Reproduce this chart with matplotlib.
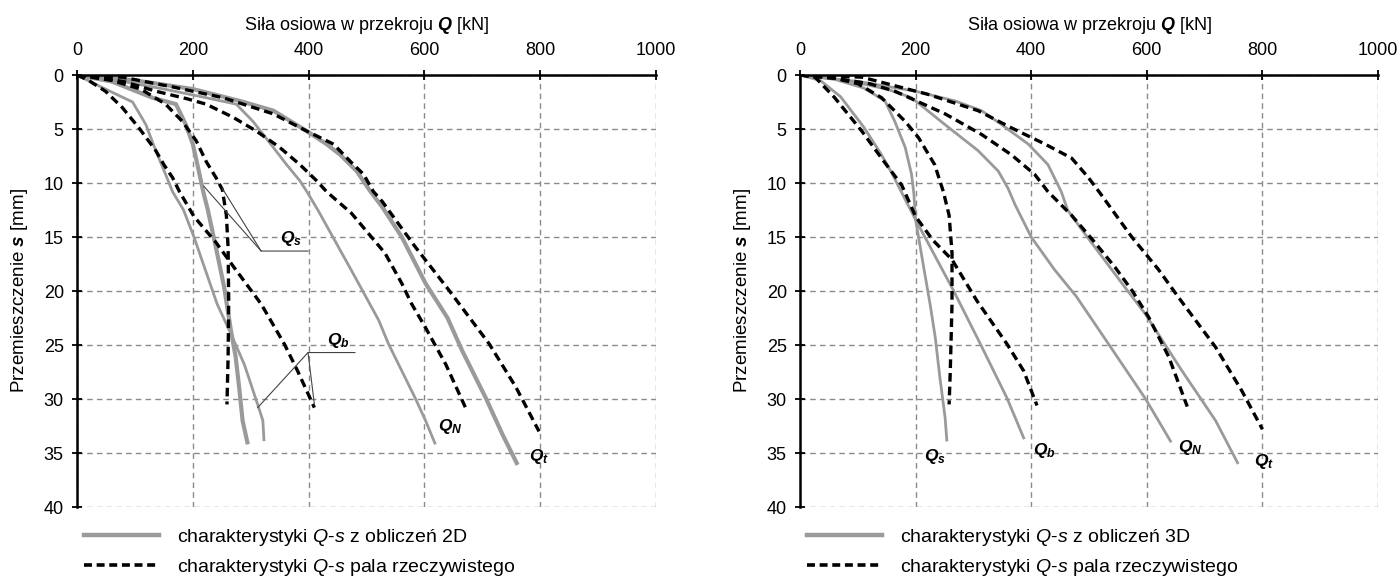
import matplotlib
matplotlib.use("Agg")
import matplotlib.pyplot as plt
from matplotlib.lines import Line2D

plt.rcParams['font.family'] = ['Liberation Sans', 'DejaVu Sans']
plt.rcParams['mathtext.fontset'] = 'custom'
plt.rcParams['mathtext.rm'] = 'Liberation Sans'
plt.rcParams['mathtext.it'] = 'Liberation Sans:italic'
plt.rcParams['mathtext.bf'] = 'Liberation Sans:bold'
plt.rcParams['mathtext.bfit'] = 'Liberation Sans:bold:italic'

# ---- lewy wykres: obliczenia 2D (Q [kN], s [mm]) ----
g2_Qs_Q = [0, 60, 130, 171, 188, 200, 210, 218, 226, 242, 254, 266, 274, 280, 286, 295]
g2_Qs_s = [0, 0.6, 2.1, 2.7, 4.6, 6.4, 8.8, 10.8, 12.5, 16.5, 19.6, 23.7, 26.1, 28.9, 32, 34.2]
g2_Qb_Q = [0, 49, 96, 119, 136, 153, 165, 184, 202, 242, 266, 289, 312, 321, 323]
g2_Qb_s = [0, 1.3, 2.5, 4.6, 7.0, 9.2, 10.8, 12.5, 15, 21.2, 24, 26.8, 30.5, 32, 33.9]
g2_QN_Q = [0, 80, 150, 223, 275, 304, 339, 362, 385, 397, 416, 474, 521, 538, 561, 584, 602, 619]
g2_QN_s = [0, 0.6, 1.3, 2.1, 2.7, 4.3, 6.7, 8.3, 9.8, 10.8, 12.5, 18.1, 22.7, 24.9, 27.4, 29.9, 32, 34.2]
g2_Qt_Q = [0, 100, 200, 281, 339, 397, 431, 455, 483, 507, 527, 561, 602, 640, 665, 706, 735, 761]
g2_Qt_s = [0, 0.5, 1.3, 2.4, 3.3, 5.2, 6.4, 7.4, 8.9, 10.8, 12.2, 15, 19.3, 22.5, 25.5, 29.9, 33.3, 36.1]

# pal rzeczywisty (lewy)
r2_Qs_Q = [0, 60, 110, 153, 182, 206, 223, 240, 251, 258, 261, 262, 261, 259]
r2_Qs_s = [0, 0.5, 1.3, 2.7, 4.3, 6.1, 8.0, 9.5, 10.6, 13, 16, 21, 26, 30.5]
r2_Qb_Q = [0, 20, 49, 78, 107, 136, 150, 165, 177, 202, 240, 271, 318, 358, 381, 410]
r2_Qb_s = [0, 0.5, 1.5, 3.0, 4.9, 7.0, 8.3, 9.5, 10.8, 13.1, 15.5, 17.8, 21.2, 24.9, 27.4, 30.8]
r2_QN_Q = [0, 80, 136, 190, 223, 269, 310, 350, 385, 414, 431, 474, 532, 561, 578, 602, 637, 671]
r2_QN_s = [0, 0.6, 1.5, 2.2, 2.7, 3.9, 5.2, 6.7, 8.3, 9.8, 10.8, 12.8, 16.5, 19.3, 21.2, 23.4, 26.8, 30.8]
r2_Qt_Q = [0, 78, 165, 252, 339, 397, 443, 472, 495, 512, 527, 584, 642, 712, 758, 798]
r2_Qt_s = [0, 0.2, 1.1, 2.1, 3.6, 5.2, 6.4, 8.0, 9.2, 10.8, 11.7, 15.9, 19.9, 24.9, 28.9, 33]

# ---- prawy wykres: obliczenia 3D ----
g3_Qs_Q = [0, 60, 110, 147, 164, 182, 193, 197, 200, 213, 225, 234, 242, 251, 254]
g3_Qs_s = [0, 0.4, 1.2, 2.4, 4.3, 6.7, 9.2, 11, 13.4, 17.5, 21.2, 24.3, 28, 31.7, 33.8]
g3_Qb_Q = [0, 35, 70, 110, 140, 158, 200, 265, 312, 358, 387]
g3_Qb_s = [0, 0.5, 2, 4.8, 7.3, 9, 13.4, 19.9, 24.9, 29.9, 33.6]
g3_QN_Q = [0, 80, 150, 193, 251, 308, 343, 360, 372, 400, 440, 478, 535, 598, 641]
g3_QN_s = [0, 0.5, 1.3, 2.1, 4.6, 7.0, 8.9, 10.5, 12, 15, 18, 20.5, 25, 30, 33.9]
g3_Qt_Q = [0, 100, 200, 268, 314, 349, 395, 429, 452, 463, 490, 525, 560, 597, 661, 719, 757]
g3_Qt_s = [0, 0.6, 1.5, 2.4, 3.3, 4.6, 6.4, 8.3, 10.8, 12.5, 14.5, 17, 19.5, 22.1, 27.4, 32, 35.9]

# pal rzeczywisty (prawy)
r3_Qs_Q = [0, 60, 100, 141, 182, 205, 233, 248, 258, 263, 263, 260, 258]
r3_Qs_s = [0, 0.3, 0.8, 2.1, 4.3, 5.8, 8.3, 10.8, 13, 16.5, 21.2, 27.4, 30.5]
r3_Qb_Q = [0, 26, 60, 107, 141, 176, 200, 230, 263, 306, 358, 387, 410]
r3_Qb_s = [0, 0.2, 2.1, 5.2, 7.7, 10.2, 13.1, 15.3, 17.1, 20.9, 24.9, 27.4, 30.6]
r3_QN_Q = [0, 60, 120, 164, 251, 314, 366, 406, 429, 470, 510, 545, 575, 603, 638, 670]
r3_QN_s = [0, 0.3, 0.8, 1.5, 3.6, 5.5, 7.4, 9.2, 10.8, 13, 15.5, 17.8, 20, 22.4, 26.1, 30.7]
r3_Qt_Q = [0, 107, 222, 308, 366, 424, 470, 499, 520, 574, 620, 655, 719, 765, 800]
r3_Qt_s = [0, 0.2, 1.8, 3.3, 4.9, 6.4, 7.7, 9.5, 11, 15, 18, 20.6, 25.2, 29.3, 32.8]

x_ticks = [0, 200, 400, 600, 800, 1000]
y_ticks = [0, 5, 10, 15, 20, 25, 30, 35, 40]

GRAY = '#9a9a9a'
DASH = (2.6, 1.5)

fig = plt.figure(figsize=(13.97, 5.77), dpi=100)
ax1 = fig.add_axes([77 / 1397, 1 - 507 / 577, 579 / 1397, 432 / 577])
ax2 = fig.add_axes([800 / 1397, 1 - 507 / 577, 578 / 1397, 432 / 577])


def style(ax):
    ax.set_xlim(0, 1000)
    ax.set_ylim(40, 0)
    ax.set_xticks(x_ticks)
    ax.set_yticks(y_ticks)
    ax.xaxis.tick_top()
    ax.xaxis.set_label_position('top')
    ax.tick_params(direction='inout', length=7, width=1.3, labelsize=13)
    ax.tick_params(axis='x', pad=8)
    ax.tick_params(axis='y', pad=6)
    for side in ['right', 'bottom']:
        ax.spines[side].set_visible(False)
    for side in ['top', 'left']:
        ax.spines[side].set_linewidth(1.8)
    ax.grid(True, color='#8a8a8a', linestyle=(0, (4, 3)), linewidth=1.0)
    ax.set_axisbelow(True)
    ax.set_xlabel(r'Siła osiowa w przekroju $\mathbfit{Q}$ [kN]', fontsize=13, labelpad=9)
    ax.set_ylabel(r'Przemieszczenie $\mathbfit{s}$ [mm]', fontsize=13.5)
    ax.yaxis.set_label_coords(-47 / 579, 0.5)


for ax in (ax1, ax2):
    style(ax)

# lewy
for Q, s, lw in [(g2_Qs_Q, g2_Qs_s, 3.0), (g2_Qb_Q, g2_Qb_s, 2.0),
                 (g2_QN_Q, g2_QN_s, 2.0), (g2_Qt_Q, g2_Qt_s, 3.0)]:
    ax1.plot(Q, s, color=GRAY, lw=lw, solid_capstyle='butt')
for Q, s in [(r2_Qs_Q, r2_Qs_s), (r2_Qb_Q, r2_Qb_s), (r2_QN_Q, r2_QN_s), (r2_Qt_Q, r2_Qt_s)]:
    ax1.plot(Q, s, color='black', lw=2.4, dashes=DASH)

# prawy
for Q, s in [(g3_Qs_Q, g3_Qs_s), (g3_Qb_Q, g3_Qb_s), (g3_QN_Q, g3_QN_s), (g3_Qt_Q, g3_Qt_s)]:
    ax2.plot(Q, s, color=GRAY, lw=2.0)
for Q, s in [(r3_Qs_Q, r3_Qs_s), (r3_Qb_Q, r3_Qb_s), (r3_QN_Q, r3_QN_s), (r3_Qt_Q, r3_Qt_s)]:
    ax2.plot(Q, s, color='black', lw=2.4, dashes=DASH)

# opisy krzywych
lab_s = r'$\mathbfit{Q}_{\mathbfit{s}}$'
lab_b = r'$\mathbfit{Q}_{\mathbfit{b}}$'
lab_N = r'$\mathbfit{Q}_{\mathbfit{N}}$'
lab_t = r'$\mathbfit{Q}_{\mathbfit{t}}$'
fs_lab = 12.5
ax1.text(370, 15.1, lab_s, fontsize=fs_lab, ha='center', va='center')
ax1.text(451, 24.6, lab_b, fontsize=fs_lab, ha='center', va='center')
ax1.text(645, 32.5, lab_N, fontsize=fs_lab, ha='center', va='center')
ax1.text(798, 35.3, lab_t, fontsize=fs_lab, ha='center', va='center')
ax2.text(234, 35.3, lab_s, fontsize=fs_lab, ha='center', va='center')
ax2.text(422, 34.8, lab_b, fontsize=fs_lab, ha='center', va='center')
ax2.text(675, 34.5, lab_N, fontsize=fs_lab, ha='center', va='center')
ax2.text(803, 35.8, lab_t, fontsize=fs_lab, ha='center', va='center')

# linie odniesienia
ax1.plot([399, 318, 219], [16.3, 16.3, 10.3], color='#444444', lw=0.8)
ax1.plot([318, 251], [16.3, 10.5], color='#444444', lw=0.8)
ax1.plot([480, 399, 312], [25.7, 25.7, 30.8], color='#444444', lw=0.8)
ax1.plot([399, 410], [25.7, 30.5], color='#444444', lw=0.8)

# legendy
for ax, dim in [(ax1, '2D'), (ax2, '3D')]:
    handles = [Line2D([], [], color=GRAY, lw=3.2),
               Line2D([], [], color='black', lw=2.6, dashes=(2.2, 1.3))]
    labels = [r'charakterystyki $\mathit{Q}$-$\mathit{s}$ z obliczeń ' + dim,
              r'charakterystyki $\mathit{Q}$-$\mathit{s}$ pala rzeczywistego']
    ax.legend(handles, labels, loc='upper left', bbox_to_anchor=(0.012, -0.047),
              frameon=False, fontsize=14, handlelength=3.86, handletextpad=0.93,
              labelspacing=0.45, borderpad=0, borderaxespad=0)

fig.savefig('out.png', dpi=100)
